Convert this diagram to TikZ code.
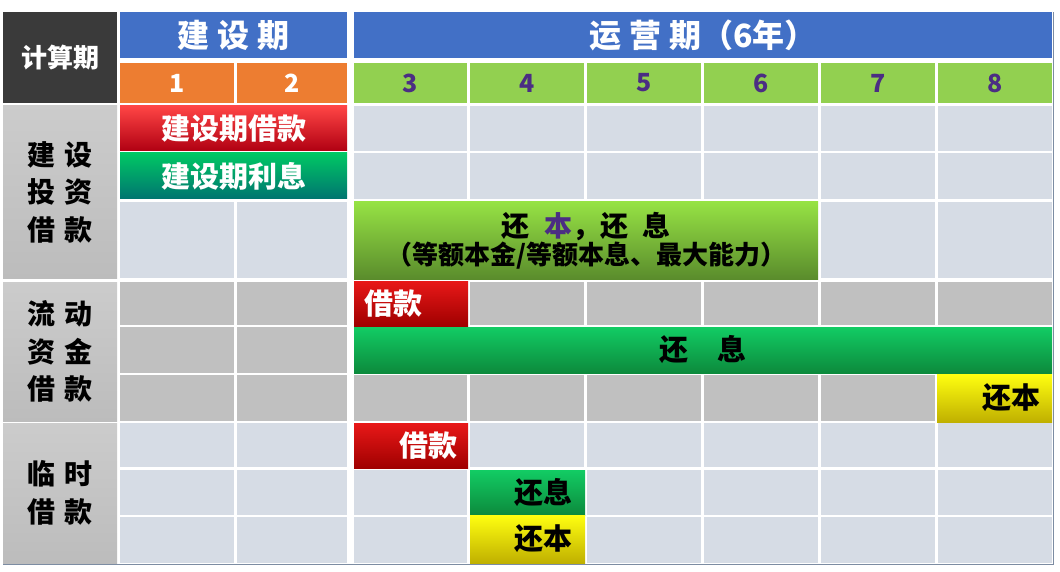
\documentclass[tikz,border=0pt]{standalone}
\usepackage{fontspec}
\setmainfont{Noto Sans CJK SC}
\definecolor{cellL}{HTML}{D6DCE5}
\definecolor{cellG}{HTML}{C0C0C0}
\definecolor{labG}{HTML}{C6C6C6}
\definecolor{darkH}{HTML}{3A3A3A}
\definecolor{blueH}{HTML}{4270C6}
\definecolor{orangeH}{HTML}{ED7D31}
\definecolor{greenH}{HTML}{92D050}
\definecolor{purp}{HTML}{4B2D83}
\definecolor{redT}{HTML}{FF4545}
\definecolor{redB}{HTML}{B00012}
\definecolor{red2T}{HTML}{E81818}
\definecolor{red2B}{HTML}{A00000}
\definecolor{tealT}{HTML}{00C864}
\definecolor{tealB}{HTML}{007470}
\definecolor{limeT}{HTML}{96E244}
\definecolor{limeB}{HTML}{5A8C2C}
\definecolor{grnT}{HTML}{12CC64}
\definecolor{grnB}{HTML}{0C8A3C}
\definecolor{yelT}{HTML}{FFFF10}
\definecolor{yelB}{HTML}{C0B000}
\definecolor{frameC}{HTML}{7C8CA2}
\tikzset{
  box/.style={draw=none, inner sep=0pt, outer sep=0pt, anchor=north west},
  lt/.style={box, fill=cellL},
  gr/.style={box, fill=cellG},
  lab/.style={box, top color=labG!90!white, bottom color=labG!95!black},
  hdr/.style={font=\bfseries\fontsize{32}{36}\selectfont, text=white},
  num/.style={font=\bfseries\fontsize{25}{28}\selectfont},
  bartxt/.style={font=\bfseries\fontsize{29}{32}\selectfont},
  side/.style={font=\bfseries\fontsize{28}{37.5}\selectfont, align=center, inner sep=0pt},
}
\newcommand\cbox[7]{\node[#2, minimum width={(#5-#3)*1pt}, minimum height={(#6-#4)*1pt}] (#1) at (#3,#4) {#7};}
\begin{document}
\begin{tikzpicture}[x=1pt,y=-1pt]
\useasboundingbox[fill=white] (0,0) rectangle (1060,572);
% header
\cbox{jsq}{box, fill=darkH, font=\bfseries\fontsize{26}{30}\selectfont, text=white}{3}{12}{117}{103}{计算期}
\cbox{jsqh}{box, fill=blueH, hdr}{120}{12}{347}{58}{建\hspace{8pt}设\hspace{8pt}期}
\cbox{yyqh}{box, fill=blueH, hdr}{354}{12}{1052}{58}{运\hspace{8pt}营\hspace{8pt}期（6年）}
\cbox{n1}{box, fill=orangeH, num, text=white}{120}{63}{234}{103}{1}
\cbox{n2}{box, fill=orangeH, num, text=white}{237}{63}{347}{103}{2}
\foreach \n/\l/\r in {3/354/467,4/470/584,5/587/701,6/704/818,7/821/935,8/938/1052}{
  \cbox{n\n}{box, fill=greenH, num, text=purp}{\l}{63}{\r}{103}{\n}
}
% left labels
\cbox{s1}{lab, side}{3}{106}{117}{278}{建\hspace{9pt}设\\投\hspace{9pt}资\\借\hspace{9pt}款}
\cbox{s2}{lab, side}{3}{282}{117}{421}{流\hspace{9pt}动\\资\hspace{9pt}金\\借\hspace{9pt}款}
\cbox{s3}{lab, side}{3}{423}{117}{563}{临\hspace{9pt}时\\借\hspace{9pt}款}
% section 1 cells
\foreach \n/\l/\r in {3/354/467,4/470/584,5/587/701,6/704/818,7/821/935,8/938/1052}{
  \cbox{a\n}{lt}{\l}{106}{\r}{151}{}
  \cbox{b\n}{lt}{\l}{153}{\r}{199}{}
}
\foreach \n/\l/\r in {1/120/234,2/237/347,7/821/935,8/938/1052}{
  \cbox{c\n}{lt}{\l}{202}{\r}{278}{}
}
% section 2 cells
\foreach \n/\l/\r in {1/120/234,2/237/347}{
  \cbox{d\n}{gr}{\l}{282}{\r}{325}{}
  \cbox{e\n}{gr}{\l}{327}{\r}{373}{}
  \cbox{f\n}{gr}{\l}{375}{\r}{421}{}
}
\foreach \n/\l/\r in {4/470/584,5/587/701,6/704/818,7/821/935,8/938/1052}{
  \cbox{d\n}{gr}{\l}{282}{\r}{325}{}
}
\foreach \n/\l/\r in {3/354/467,4/470/584,5/587/701,6/704/818,7/821/935}{
  \cbox{f\n}{gr}{\l}{375}{\r}{421}{}
}
% section 3 cells
\foreach \n/\l/\r in {1/120/234,2/237/347,3/354/467,4/470/584,5/587/701,6/704/818,7/821/935,8/938/1052}{
  \cbox{g\n}{lt}{\l}{423}{\r}{467}{}
  \cbox{h\n}{lt}{\l}{470}{\r}{515}{}
  \cbox{i\n}{lt}{\l}{517}{\r}{563}{}
}
% bars
\cbox{jsjk}{box, top color=redT, bottom color=redB, bartxt, text=white}{120}{106}{347}{151}{建设期借款}
\cbox{jslx}{box, top color=tealT, bottom color=tealB, bartxt, text=white}{120}{153}{347}{199}{建设期利息}
\cbox{hbhx}{box, top color=limeT, bottom color=limeB, align=center}{354}{202}{818}{279}{%
  {\bfseries\fontsize{28}{32}\selectfont 还\hspace{15pt}{\color{purp}本}，还\hspace{15pt}息}\\[0pt]
  {\bfseries\fontsize{26}{30}\selectfont （等额本金/等额本息、最大能力）}}
\cbox{ldjk}{box, top color=red2T, bottom color=red2B}{354}{281}{468}{326}{}
\node[bartxt, text=white, anchor=west, inner sep=0pt] (ldjkt) at ([xshift=10pt]ldjk.west) {借款};
\cbox{ldhx}{box, top color=grnT, bottom color=grnB, bartxt}{354}{327}{1052}{373}{还　息}
\cbox{ldhb}{box, top color=yelT, bottom color=yelB}{937}{374}{1052}{422}{}
\node[bartxt, anchor=east, inner sep=0pt] (ldhbt) at ([xshift=-11pt]ldhb.east) {还本};
\cbox{lsjk}{box, top color=red2T, bottom color=red2B}{354}{423}{468}{468}{}
\node[bartxt, text=white, anchor=east, inner sep=0pt] (lsjkt) at ([xshift=-10pt]lsjk.east) {借款};
\cbox{lshx}{box, top color=grnT, bottom color=grnB}{470}{470}{585}{515}{}
\node[bartxt, anchor=east, inner sep=0pt] (lshxt) at ([xshift=-12pt]lshx.east) {还息};
\cbox{lshb}{box, top color=yelT, bottom color=yelB}{470}{515}{585}{563}{}
\node[bartxt, anchor=east, inner sep=0pt] (lshbt) at ([xshift=-12pt]lshb.east) {还本};
% frame
\draw[frameC, line width=1pt] (3,564) -- (1053,564) -- (1053,12);
\end{tikzpicture}
\end{document}
